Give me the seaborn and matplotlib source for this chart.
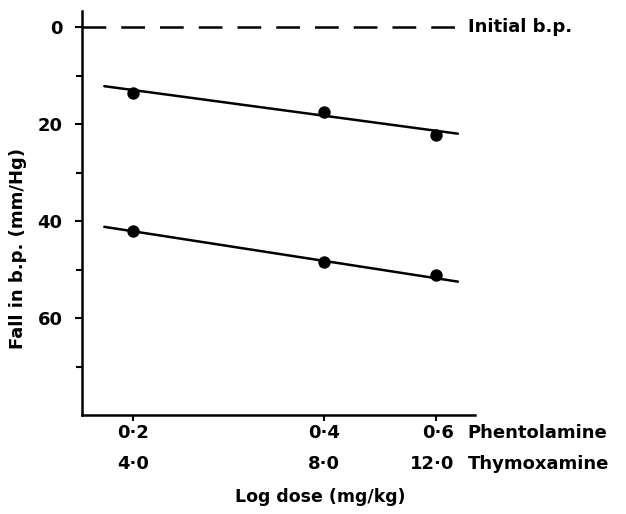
import numpy as np
import pandas as pd
import matplotlib
matplotlib.use("Agg")
import matplotlib.pyplot as plt
import seaborn as sns
from matplotlib.ticker import NullLocator, FixedLocator

# Data
phentolamine_dose = [0.2, 0.4, 0.6]
thymoxamine_dose = ["4·0", "8·0", "12·0"]
phentolamine_lbl = ["0·2", "0·4", "0·6"]
upper_fall = [13.6, 17.5, 22.2]
lower_fall = [42.0, 48.4, 51.2]
# fitted lines (end points as drawn)
fit_x = [0.18, 0.65]
upper_fit = [12.2, 22.0]
lower_fit = [41.2, 52.5]
baseline_x = [0.166, 0.67]
baseline_y = [0, 0]

sns.set_style("ticks")
plt.rcParams['font.family'] = ['DejaVu Sans']
plt.rcParams['font.weight'] = 'bold'
plt.rcParams['axes.labelweight'] = 'bold'
for k in ['text.color', 'axes.labelcolor', 'xtick.color', 'ytick.color', 'axes.edgecolor']:
    plt.rcParams[k] = 'black'
FS = 13

pts = pd.DataFrame({
    "dose": phentolamine_dose * 2,
    "fall": upper_fall + lower_fall,
    "series": ["upper"] * 3 + ["lower"] * 3,
})
fits = pd.DataFrame({
    "dose": fit_x * 2,
    "fall": upper_fit + lower_fit,
    "series": ["upper"] * 2 + ["lower"] * 2,
})

fig = plt.figure(figsize=(6.26, 5.14), dpi=100)
ax = fig.add_axes([0.131, 0.1926, 0.628, 0.786])

sns.lineplot(data=fits, x="dose", y="fall", units="series", estimator=None,
             color="black", lw=1.8, ax=ax)
ax.plot(baseline_x, baseline_y, color="black", lw=1.8, dashes=(9.5, 6), clip_on=False)
sns.scatterplot(data=pts, x="dose", y="fall", color="black", s=80,
                edgecolor="black", linewidth=0, ax=ax, zorder=5)

ax.set_xscale("log")
ax.set_xlim(0.166, 0.692)
ax.set_ylim(80, -3.3)
ax.xaxis.set_major_locator(FixedLocator(phentolamine_dose))
ax.xaxis.set_minor_locator(NullLocator())
ax.set_xticklabels([])
ax.set_yticks([0, 20, 40, 60])
ax.set_yticks([10, 30, 50, 70], minor=True)
ax.tick_params(axis="y", which="major", length=5, width=1.5, labelsize=FS, pad=9)
ax.tick_params(axis="y", which="minor", length=4, width=1.5)
ax.tick_params(axis="x", which="major", length=4, width=1.5, direction="out")

for s in ["top", "right"]:
    ax.spines[s].set_visible(False)
for s in ["left", "bottom"]:
    ax.spines[s].set_linewidth(1.8)

# two rows of dose labels
for i, d in enumerate(phentolamine_dose):
    dx, ha = (0, "center") if i < 2 else (13, "right")
    ax.annotate(phentolamine_lbl[i], (d, 0), xycoords=("data", "axes fraction"),
                xytext=(dx, -13), textcoords="offset points", ha=ha, va="center",
                fontsize=FS)
    ax.annotate(thymoxamine_dose[i], (d, 0), xycoords=("data", "axes fraction"),
                xytext=(dx, -35), textcoords="offset points", ha=ha, va="center",
                fontsize=FS)
ax.annotate("Phentolamine", (phentolamine_dose[2], 0), xycoords=("data", "axes fraction"),
            xytext=(23, -13), textcoords="offset points", ha="left", va="center", fontsize=FS)
ax.annotate("Thymoxamine", (phentolamine_dose[2], 0), xycoords=("data", "axes fraction"),
            xytext=(23, -35), textcoords="offset points", ha="left", va="center", fontsize=FS)

ax.text(0.674, 0, "Initial b.p.", ha="left", va="center", fontsize=FS, clip_on=False)

ax.set_xlabel("Log dose (mg/kg)", fontsize=12.5, fontweight="bold")
ax.xaxis.set_label_coords(0.606, -0.18)
ax.set_ylabel("Fall in b.p. (mm/Hg)", fontsize=13, fontweight="bold")
ax.yaxis.set_label_coords(-0.14, 0.413)

fig.savefig("out.png", dpi=100)
